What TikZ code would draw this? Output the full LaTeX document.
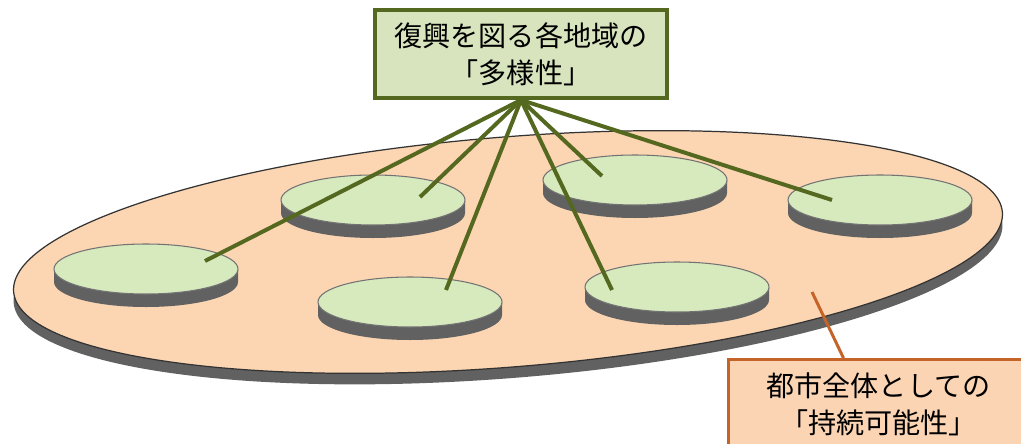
\documentclass[tikz,border=0pt]{standalone}
\usepackage{fontspec}
\usepackage{tikz}
\usepackage{xcolor}
\newfontfamily\jpfont{Noto Sans CJK JP}

\definecolor{boxgreen}{RGB}{216,228,190}
\definecolor{linegreen}{RGB}{84,104,32}
\definecolor{diskgreen}{RGB}{214,234,190}
\definecolor{peach}{RGB}{252,214,178}
\definecolor{boxpeach}{RGB}{251,212,180}
\definecolor{lineorange}{RGB}{196,100,40}

\tikzset{
  labelbox/.style={draw, line width=0.08cm, align=center,
    font=\jpfont\fontsize{16pt}{21pt}\selectfont, inner sep=0pt},
  spoke/.style={linegreen, line width=0.08cm},
  rim/.style={fill=black!62},
  face/.style={draw=black!55, line width=0.6pt, fill=diskgreen}
}

\begin{document}
\begin{tikzpicture}[x=0.02cm, y=-0.02cm]

        \useasboundingbox (0,0) rectangle (1021,443);
        \clip (0,0) rectangle (1021,443);

        % Draw city as a whole
        \fill[rim, rotate around={4.6:(508,263)}] (508,263) ellipse [x radius=496, y radius=115];
        \draw[black!80, line width=0.7pt, fill=peach, rotate around={4.6:(508,252)}] (508,252) ellipse [x radius=496, y radius=115];

        % Draw local areas
        \foreach \name/\cx/\cy/\px/\py in {west/146/269/205/261, north/373/200/420/197, south/410/302/446/290,
                                           centre/635/180/602/176, east/880/200/832/200, southeast/677/287/612/290} {
            \fill[rim] (\cx-92,\cy) -- ++(0,13) arc [start angle=180, end angle=0, x radius=92, y radius=25] -- ++(0,-13) -- cycle;
            \draw[face] (\cx,\cy) ellipse [x radius=92, y radius=25];
            \coordinate (\name) at (\px,\py);
        }

        % Draw top box
        \node[labelbox, draw=linegreen, fill=boxgreen, minimum width=5.84cm, minimum height=1.76cm] (diversity) at (521,54)
            {復興を図る各地域の\\「多様性」};
        \coordinate (hub) at (diversity.south);

        % Draw spokes
        \foreach \name in {west, north, south, centre, east, southeast} {
            \draw[spoke] (hub) -- (\name);
        }

        % Draw bottom box
        \node[labelbox, draw=lineorange, line width=0.06cm, fill=boxpeach, minimum width=6cm, minimum height=1.8cm, anchor=north west] (sustain) at (727,358)
            {都市全体としての\\「持続可能性」};
        \coordinate (spot) at (812,292);
        \draw[lineorange, line width=0.06cm] (spot) -- ([xshift=-0.7cm]sustain.north);

    \end{tikzpicture}
\end{document}
